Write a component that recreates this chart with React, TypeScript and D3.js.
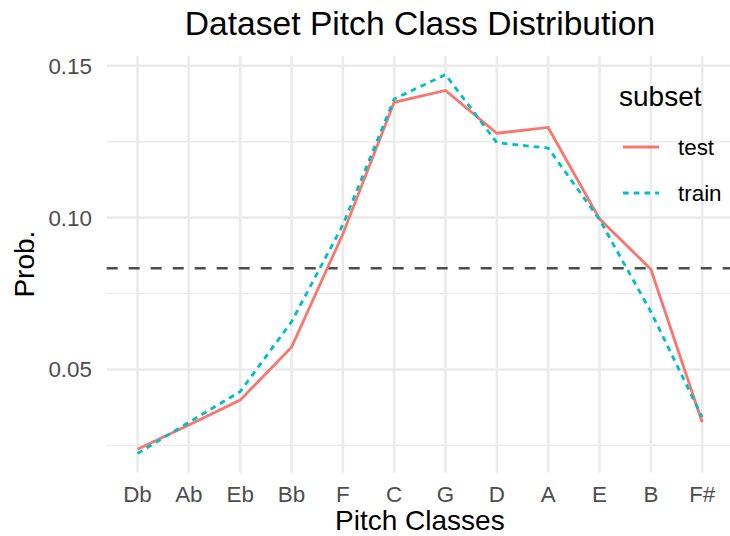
import React from "react";
import * as d3 from "d3";

const categories = ["Db", "Ab", "Eb", "Bb", "F", "C", "G", "D", "A", "E", "B", "F#"];
const testValues = [0.0237, 0.0317, 0.0399, 0.0573, 0.0946, 0.138, 0.1419, 0.1278, 0.1297, 0.0996, 0.083, 0.0326];
const trainValues = [0.0223, 0.0326, 0.0427, 0.0657, 0.0976, 0.1391, 0.1471, 0.1247, 0.1229, 0.0994, 0.069, 0.0343];
const seriesNames = ["test", "train"];
const yTicks = [0.05, 0.1, 0.15];
const yMinor = [0.025, 0.075, 0.125];
const refLine = 1 / 12;

const W = 730;
const H = 536;
const panel = { left: 106.7, right: 733, top: 55.7, bottom: 472.5 };
const FONT = "'Liberation Sans', Arial, Helvetica, sans-serif";

export default function App() {
  const all = [...testValues, ...trainValues, refLine];
  const mn = d3.min(all) as number;
  const mx = d3.max(all) as number;
  const pad = (mx - mn) * 0.05;
  const y = d3.scaleLinear().domain([mn - pad, mx + pad]).range([panel.bottom, panel.top]);
  const x = d3.scalePoint<string>().domain(categories).range([panel.left, panel.right]).padding(0.6);

  const line = d3
    .line<number>()
    .x((_, i) => x(categories[i]) as number)
    .y((d) => y(d));

  const series = [
    { name: seriesNames[0], values: testValues, color: "#F8766D", dash: undefined as string | undefined },
    { name: seriesNames[1], values: trainValues, color: "#00BFC4", dash: "5.7,5" },
  ];

  return (
    <svg
      width={W}
      height={H}
      style={{ position: "absolute", left: 0, top: 0, background: "#fff" }}
      fontFamily={FONT}
    >
      <rect x={0} y={0} width={W} height={H} fill="#fff" />
      {yMinor.map((t) => (
        <line key={"mi" + t} x1={panel.left} x2={W} y1={y(t)} y2={y(t)} stroke="#EBEBEB" strokeWidth={1.3} />
      ))}
      {yTicks.map((t) => (
        <line key={"ma" + t} x1={panel.left} x2={W} y1={y(t)} y2={y(t)} stroke="#EBEBEB" strokeWidth={2.6} />
      ))}
      {categories.map((c) => (
        <line
          key={"v" + c}
          x1={x(c)}
          x2={x(c)}
          y1={panel.top}
          y2={panel.bottom}
          stroke="#EBEBEB"
          strokeWidth={2.6}
        />
      ))}
      <line
        x1={panel.left}
        x2={W}
        y1={y(refLine)}
        y2={y(refLine)}
        stroke="#4D4D4D"
        strokeWidth={2.6}
        strokeDasharray="11,11"
      />
      {series.map((s) => (
        <path
          key={s.name}
          d={line(s.values) as string}
          fill="none"
          stroke={s.color}
          strokeWidth={2.8}
          strokeDasharray={s.dash}
        />
      ))}
      {yTicks.map((t) => (
        <text key={"yl" + t} x={92} y={y(t) + 8} textAnchor="end" fontSize={22.4} fill="#4D4D4D">
          {t.toFixed(2)}
        </text>
      ))}
      {categories.map((c) => (
        <text key={"xl" + c} x={x(c)} y={502} textAnchor="middle" fontSize={22.4} fill="#4D4D4D">
          {c}
        </text>
      ))}
      <text x={(panel.left + panel.right) / 2} y={530} textAnchor="middle" fontSize={28} fill="#000">
        Pitch Classes
      </text>
      <text
        transform={`translate(34, ${(panel.top + panel.bottom) / 2}) rotate(-90)`}
        textAnchor="middle"
        fontSize={28}
        fill="#000"
      >
        Prob.
      </text>
      <text x={420} y={35} textAnchor="middle" fontSize={33.6} fill="#000">
        Dataset Pitch Class Distribution
      </text>
      <text x={619} y={106} fontSize={28} fill="#000">
        subset
      </text>
      {series.map((s, i) => (
        <g key={"lg" + s.name} transform={`translate(0, ${147 + i * 46})`}>
          <line x1={623} x2={659} y1={0} y2={0} stroke={s.color} strokeWidth={2.8} strokeDasharray={s.dash} />
          <text x={678} y={8} fontSize={22.4} fill="#000">
            {s.name}
          </text>
        </g>
      ))}
    </svg>
  );
}
